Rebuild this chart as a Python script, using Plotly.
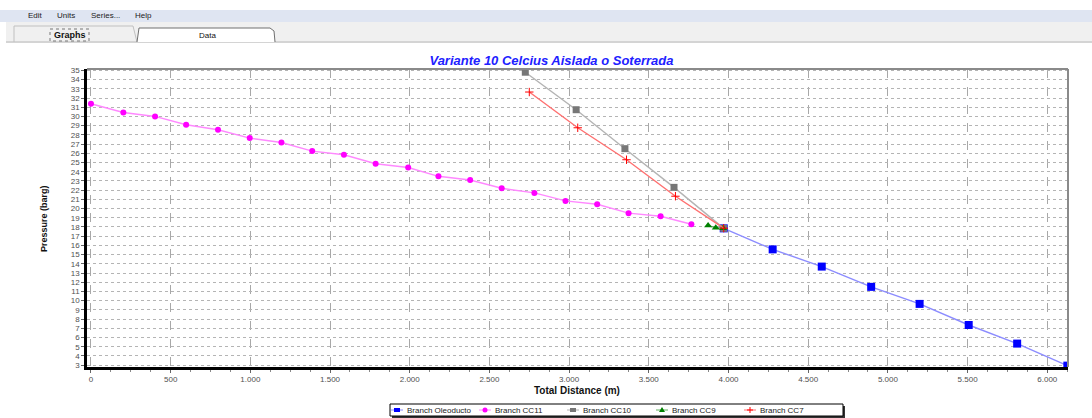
import plotly.graph_objects as go

# ---- data ----
oleo_x = [3970, 4277, 4585, 4895, 5199, 5507, 5811, 6126]
oleo_y = [17.85, 15.57, 13.70, 11.50, 9.65, 7.36, 5.34, 2.95]

cc11_x = [0, 203, 402, 597, 797, 996, 1195, 1388, 1587, 1786, 1990, 2180, 2379,
          2577, 2782, 2977, 3176, 3373, 3574, 3767]
cc11_y = [31.38, 30.43, 30.0, 29.1, 28.55, 27.65, 27.17, 26.24, 25.84, 24.86, 24.46,
          23.5, 23.1, 22.2, 21.7, 20.83, 20.47, 19.5, 19.17, 18.3]

cc10_x = [2725, 3044, 3350, 3658, 3970]
cc10_y = [34.8, 30.73, 26.5, 22.3, 17.85]

cc9_x = [3872, 3920, 3966]
cc9_y = [18.15, 17.93, 17.87]

cc7_x = [2750, 3054, 3360, 3667, 3970]
cc7_y = [32.65, 28.77, 25.3, 21.34, 17.87]

series_names = ["Branch Oleoducto", "Branch CC11", "Branch CC10", "Branch CC9", "Branch CC7"]
title_text = "Variante 10 Celcius Aislada o Soterrada"
x_title = "Total Distance (m)"
y_title = "Pressure (barg)"
menu_items = ["Edit", "Units", "Series...", "Help"]
tab_labels = ["Graphs", "Data"]

FONT = "Liberation Sans, Arial, sans-serif"

styles = [
    dict(line="#8c8cff", marker="#0000ff", symbol="square", size=8),
    dict(line="#ff88ff", marker="#ff00ff", symbol="circle", size=6),
    dict(line="#b4b4b4", marker="#777777", symbol="square", size=7),
    dict(line="#60b060", marker="#008000", symbol="triangle-up", size=7),
    dict(line="#ff7070", marker="#ff0000", symbol="cross-thin", size=6),
]
xs = [oleo_x, cc11_x, cc10_x, cc9_x, cc7_x]
ys = [oleo_y, cc11_y, cc10_y, cc9_y, cc7_y]

fig = go.Figure()
for name, x, y, st in zip(series_names, xs, ys, styles):
    mk = dict(symbol=st["symbol"], size=st["size"], color=st["marker"])
    if st["symbol"] == "cross-thin":
        mk["line"] = dict(color=st["marker"], width=1)
    fig.add_trace(go.Scatter(x=x, y=y, name=name, mode="lines+markers",
                             line=dict(color=st["line"], width=1.4), marker=mk,
                             showlegend=False))

W, H = 1092, 418
pl, pr, pt, pb = 87, 24, 69, 51

fig.update_layout(
    width=W, height=H,
    margin=dict(l=pl, r=pr, t=pt, b=pb, autoexpand=False),
    paper_bgcolor="white", plot_bgcolor="white",
    separators=",.",
    font=dict(family=FONT, size=8, color="#555555"),
    title=dict(text="<b><i>" + title_text + "</i></b>", x=0.505, xref="container",
               xanchor="center", y=1 - 60 / 418, yref="container", yanchor="middle",
               font=dict(family=FONT, size=13, color="#2020ff")),
    showlegend=False,
    xaxis=dict(range=[-25, 6130], dtick=500, tick0=0, separatethousands=True,
               showgrid=True, gridcolor="#a8a8a8", griddash="dash", gridwidth=1,
               zeroline=False, showline=True, linecolor="black", linewidth=2.5,
               ticks="outside", ticklen=3, tickcolor="#666666",
               minor=dict(dtick=125, ticks="outside", ticklen=2, tickcolor="#888888", showgrid=False),
               tickfont=dict(size=8, color="#505050")),
    yaxis=dict(range=[2.8, 35.15], dtick=1, tick0=0,
               showgrid=True, gridcolor="#b4b4b4", griddash="dot", gridwidth=1,
               zeroline=False, showline=True, linecolor="black", linewidth=2.5,
               ticks="outside", ticklen=3, tickcolor="#666666",
               tickfont=dict(size=8, color="#505050")),
)

pw, ph = W - pl - pr, H - pt - pb
def px(x):
    return (x - pl) / pw
def py(y):
    return 1 - (y - pt) / ph

shapes = []
# plot frame (top/right gray)
shapes.append(dict(type="line", xref="paper", yref="paper", x0=0, x1=1, y0=1, y1=1,
                   line=dict(color="#8a8a8a", width=2)))
shapes.append(dict(type="line", xref="paper", yref="paper", x0=1, x1=1, y0=0, y1=1,
                   line=dict(color="#8a8a8a", width=2)))
# top window chrome (menu bar and tab strip)
shapes.append(dict(type="rect", xref="paper", yref="paper", x0=px(0), x1=px(W), y0=py(10), y1=py(22),
                   fillcolor="#dfe5f2", line=dict(width=0), layer="below"))
shapes.append(dict(type="rect", xref="paper", yref="paper", x0=px(6), x1=px(W), y0=py(22), y1=py(43),
                   fillcolor="#f0f0f0", line=dict(width=0), layer="below"))
shapes.append(dict(type="line", xref="paper", yref="paper", x0=px(6), x1=px(W), y0=py(42), y1=py(42),
                   line=dict(color="#b8b8b8", width=1)))
shapes.append(dict(type="path", xref="paper", yref="paper",
                   path=f"M {px(14)} {py(42)} L {px(14)} {py(26)} L {px(133)} {py(26)} L {px(137)} {py(42)}",
                   line=dict(color="#c0c0c0", width=1)))
shapes.append(dict(type="path", xref="paper", yref="paper",
                   path=f"M {px(137)} {py(42)} L {px(139)} {py(28)} L {px(270)} {py(28)} L {px(274)} {py(31)} L {px(275)} {py(42)}",
                   fillcolor="white", line=dict(color="#707070", width=1)))
shapes.append(dict(type="rect", xref="paper", yref="paper", x0=px(50), x1=px(89), y0=py(29), y1=py(41),
                   line=dict(color="#777777", width=1, dash="dot")))

# legend box with shadow
LX0, LX1, LY0, LY1 = 390, 843, 404, 416
shapes.append(dict(type="rect", xref="paper", yref="paper", x0=px(LX0 + 2), x1=px(LX1 + 2),
                   y0=py(LY0 + 2), y1=py(LY1 + 2), fillcolor="#333333", line=dict(width=0)))
shapes.append(dict(type="rect", xref="paper", yref="paper", x0=px(LX0), x1=px(LX1),
                   y0=py(LY0), y1=py(LY1), fillcolor="white", line=dict(color="black", width=1)))
sym_x = [397, 485, 573, 662, 750]
cy = 410
for sx, st in zip(sym_x, styles):
    shapes.append(dict(type="line", xref="paper", yref="paper", x0=px(sx - 6), x1=px(sx + 6),
                       y0=py(cy), y1=py(cy), line=dict(color=st["line"], width=1)))
    c = st["marker"]
    if st["symbol"] == "square":
        shapes.append(dict(type="rect", xref="paper", yref="paper", x0=px(sx - 3), x1=px(sx + 3),
                           y0=py(cy - 2), y1=py(cy + 2), fillcolor=c, line=dict(width=0)))
    elif st["symbol"] == "circle":
        shapes.append(dict(type="circle", xref="paper", yref="paper", x0=px(sx - 2.5), x1=px(sx + 2.5),
                           y0=py(cy - 2.5), y1=py(cy + 2.5), fillcolor=c, line=dict(width=0)))
    elif st["symbol"] == "triangle-up":
        shapes.append(dict(type="path", xref="paper", yref="paper",
                           path=f"M {px(sx-3)} {py(cy+2)} L {px(sx+3)} {py(cy+2)} L {px(sx)} {py(cy-3)} Z",
                           fillcolor=c, line=dict(width=0)))
    else:
        shapes.append(dict(type="line", xref="paper", yref="paper", x0=px(sx), x1=px(sx),
                           y0=py(cy - 3), y1=py(cy + 3), line=dict(color=c, width=1)))
        shapes.append(dict(type="line", xref="paper", yref="paper", x0=px(sx - 3), x1=px(sx + 3),
                           y0=py(cy), y1=py(cy), line=dict(color=c, width=1)))
fig.update_layout(shapes=shapes)

ann = []
menu_x = [26, 55, 89, 133]
for t, xx in zip(menu_items, menu_x):
    ann.append(dict(text=t, xref="paper", yref="paper", x=px(xx), y=py(16), xanchor="left",
                    yanchor="middle", showarrow=False, font=dict(family=FONT, size=8, color="#222222")))
ann.append(dict(text="<b>" + tab_labels[0] + "</b>", xref="paper", yref="paper", x=px(70), y=py(35),
                xanchor="center", yanchor="middle", showarrow=False,
                font=dict(family=FONT, size=9, color="#111111")))
ann.append(dict(text=tab_labels[1], xref="paper", yref="paper", x=px(207), y=py(35),
                xanchor="center", yanchor="middle", showarrow=False,
                font=dict(family=FONT, size=8, color="#111111")))
ann.append(dict(text="<b>" + y_title + "</b>", xref="paper", yref="paper", x=px(44), y=py(219),
                xanchor="center", yanchor="middle", showarrow=False, textangle=-90,
                font=dict(family="Liberation Sans Narrow, " + FONT, size=9, color="#111111")))
ann.append(dict(text="<b>" + x_title + "</b>", xref="paper", yref="paper", x=px(577), y=py(390),
                xanchor="center", yanchor="middle", showarrow=False,
                font=dict(family=FONT, size=10, color="#111111")))
for sx, name in zip(sym_x, series_names):
    ann.append(dict(text=name, xref="paper", yref="paper", x=px(sx + 8), y=py(cy),
                    xanchor="left", yanchor="middle", showarrow=False,
                    font=dict(family=FONT, size=8, color="#222222")))
fig.update_layout(annotations=ann)

fig.write_html("out.html")
